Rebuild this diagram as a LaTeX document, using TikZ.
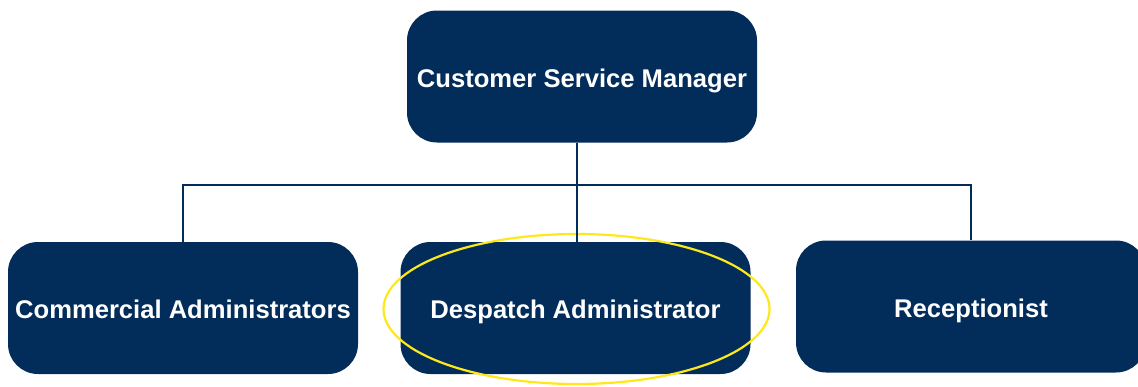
\documentclass[tikz,border=0pt]{standalone}
\usepackage{fontspec}
\setmainfont{Liberation Sans}
\usetikzlibrary{positioning}
\usetikzlibrary{shapes.geometric}
\definecolor{navy}{HTML}{022D5A}
\definecolor{hlyellow}{HTML}{FFE81A}
\begin{document}
\begin{tikzpicture}[x=0.5pt,y=-0.5pt,
			rolebox/.style={rectangle, rounded corners=15pt, fill=navy, text=white, font=\fontsize{12.8}{15}\bfseries\selectfont, text height=10.5pt, text depth=0pt, minimum width=175pt, minimum height=66pt},
			conn/.style={draw=navy, line width=1pt},
			]
			\clip (0,0) rectangle (1138,386);
			\useasboundingbox (0,0) rectangle (1138,386);
			%Nodes
			\node[rolebox]      (csm) 	at	(582,76.5) 		{Customer Service Manager};
			\node[rolebox]      (ca) 	at 	(183,308)          {Commercial Administrators};
			\node[rolebox]      (da) 	at 	(575.5,308)        {Despatch Administrator};
			\node[rolebox]      (rec) 	at 	(971,306.5)        {Receptionist};
			\coordinate         (bus)   at  (577,185);
			\node[ellipse, draw=hlyellow, line width=1.1pt, minimum width=193pt, minimum height=75pt] (hl) at (576.5,309) {};
			%Lines
			\draw[conn] (ca.north) |- (bus) -| (rec.north);
			\draw[conn] (csm.south -| bus) -- (bus |- da.north);
		\end{tikzpicture}
\end{document}
